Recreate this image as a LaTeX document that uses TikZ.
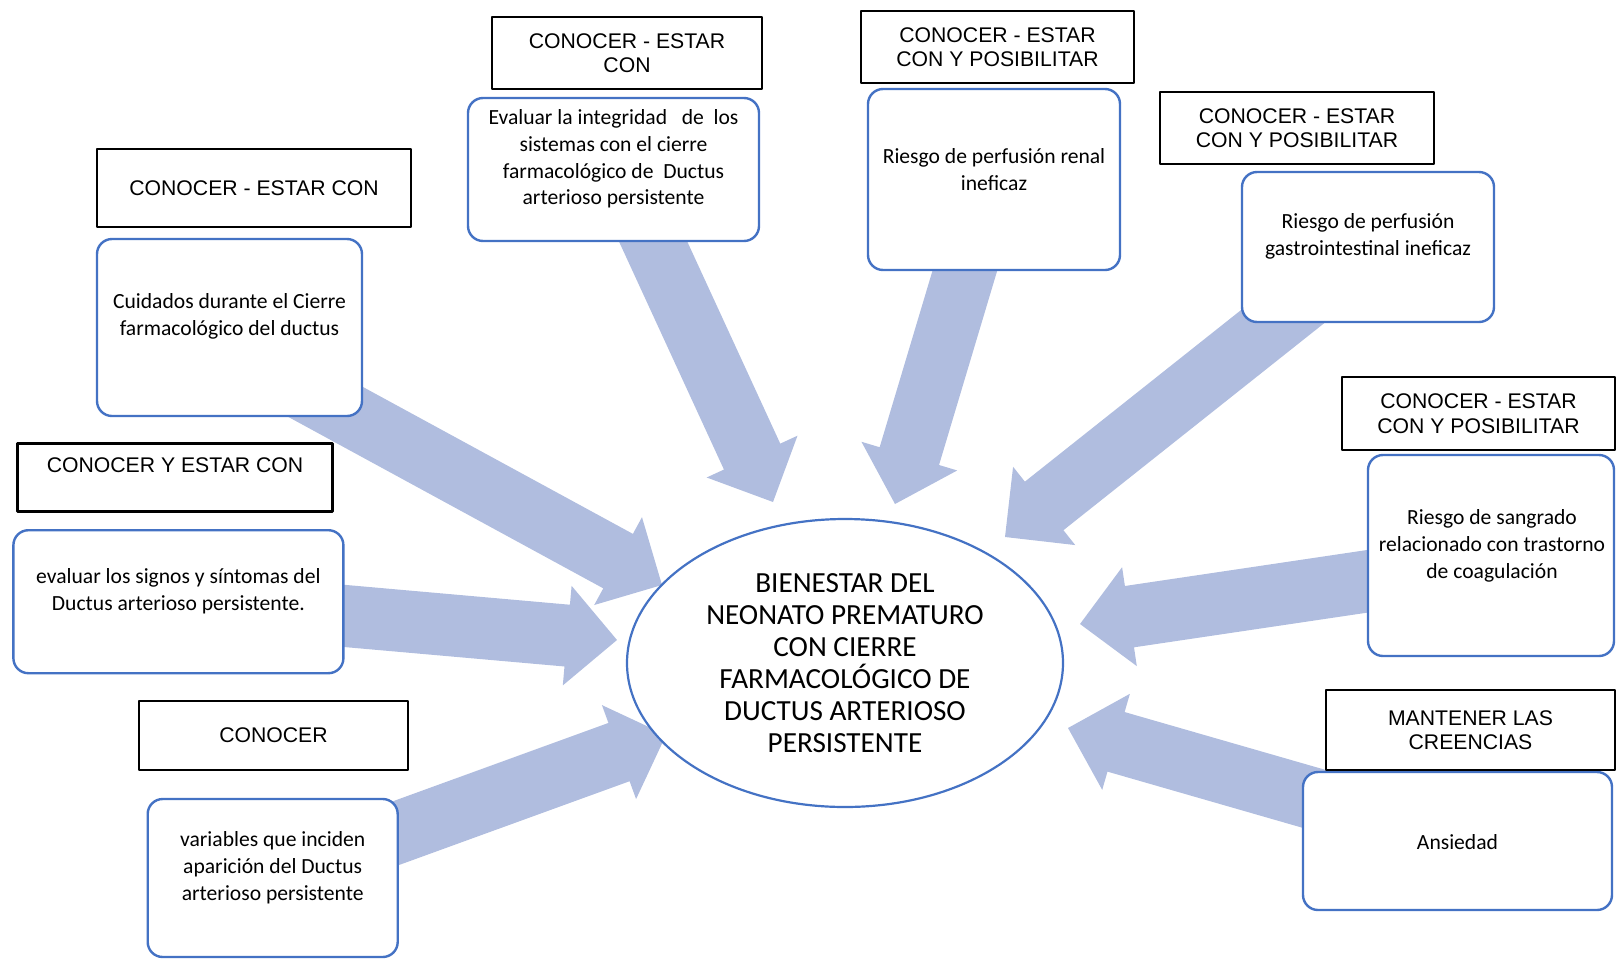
\documentclass[tikz,border=0pt]{standalone}
\usepackage{fontspec}
\setmainfont{Carlito}
\newfontfamily\arialfont{Liberation Sans}
\usetikzlibrary{calc,shapes.geometric,backgrounds}

\definecolor{boxblue}{RGB}{68,114,196}
\definecolor{arrowfill}{RGB}{176,189,223}

% block arrow from #1 to tip #2
\newcommand{\bigarrow}[2]{%
  \coordinate (hb) at ($(#2)!25pt!(#1)$);
  \fill[arrowfill] ($(#1)!15.5pt!90:(#2)$) -- ($(hb)!15.5pt!90:(#2)$) -- ($(hb)!25pt!90:(#2)$) -- (#2)
    -- ($(hb)!25pt!-90:(#2)$) -- ($(hb)!15.5pt!-90:(#2)$) -- ($(#1)!15.5pt!-90:(#2)$) -- cycle;
}

\begin{document}
\begin{tikzpicture}[x=0.5pt,y=-0.5pt,line join=round,
  sz/.style 2 args={minimum width=#1*0.5pt,minimum height=#2*0.5pt},
  hdr/.style={draw=black,line width=1.1pt,fill=white,inner sep=0pt,align=center,
    font=\arialfont\fontsize{10.6}{12.2}\selectfont},
  card/.style={draw=boxblue,line width=1.2pt,fill=white,rounded corners=7.5pt,inner sep=0pt},
  txt/.style={align=center,inner sep=0pt,font=\fontsize{10.8}{13.4}\selectfont}]
\useasboundingbox (0,0) rectangle (1617,959);

% cards
\node[card,sz={265}{177}] (cuid) at (229.5,327.5) {};
\node[txt] (cuidT) at (229.5,316.5) {Cuidados durante el Cierre\\farmacológico del ductus};
\node[card,sz={291}{143}] (integ) at (613.5,169.5) {};
\node[txt] (integT) at (613.5,159) {Evaluar la integridad~~ de~ los\\sistemas con el cierre\\farmacológico de~ Ductus\\arterioso persistente};
\node[card,sz={252}{181}] (renal) at (994,179.5) {};
\node[txt] (renalT) at (994,169.5) {Riesgo de perfusión renal\\ineficaz};
\node[card,sz={252}{150}] (gastro) at (1368,247) {};
\node[txt] (gastroT) at (1368,236.5) {Riesgo de perfusión\\gastrointestinal ineficaz};
\node[card,sz={246}{201}] (sangr) at (1491,555.5) {};
\node[txt] (sangrT) at (1492,546) {Riesgo de sangrado\\relacionado con trastorno\\de coagulación};
\node[card,sz={309}{138}] (ansied) at (1457.5,841) {};
\node[txt] (ansiedT) at (1457.5,842) {Ansiedad};
\node[card,sz={330}{143}] (signos) at (178.4,601.7) {};
\node[txt] (signosT) at (178.4,591.5) {evaluar los signos y síntomas del\\Ductus arterioso persistente.};
\node[card,sz={250}{158}] (variab) at (272.7,878) {};
\node[txt] (variabT) at (272.7,867.5) {variables que inciden\\aparición del Ductus\\arterioso persistente};

% headers
\node[hdr,sz={314}{78}] (hCuid) at (254,188) {CONOCER - ESTAR CON};
\node[hdr,sz={270}{72}] (hInteg) at (627,53) {CONOCER - ESTAR\\CON};
\node[hdr,sz={273}{72}] (hRenal) at (997.5,47) {CONOCER - ESTAR\\CON Y POSIBILITAR};
\node[hdr,sz={274}{72}] (hGastro) at (1297,128) {CONOCER - ESTAR\\CON Y POSIBILITAR};
\node[hdr,sz={273}{73}] (hSangr) at (1478.5,413.5) {CONOCER - ESTAR\\CON Y POSIBILITAR};
\node[hdr,sz={289}{80}] (hAnsied) at (1470.5,730) {MANTENER LAS\\CREENCIAS};
\node[hdr,sz={315}{68}] (hSignos) at (175,477.5) {CONOCER Y ESTAR CON\\\mbox{}};
\node[hdr,sz={269}{69}] (hVariab) at (273.5,735.5) {CONOCER};

% centre
\node[ellipse,draw=boxblue,line width=1.1pt,fill=white,inner sep=0pt,sz={436}{288},
  align=center,font=\fontsize{14.6}{16}\selectfont] (goal) at (845,663)
  {BIENESTAR DEL\\NEONATO PREMATURO\\CON CIERRE\\FARMACOLÓGICO DE\\DUCTUS ARTERIOSO\\PERSISTENTE};

\coordinate (tail1) at (300,388);  \coordinate (tip1) at (662,585);
\coordinate (tail2) at (300,612);  \coordinate (tip2) at (617,640);
\coordinate (tail3) at (300,868);  \coordinate (tip3) at (666,735);
\coordinate (tail4) at (634,200);  \coordinate (tip4) at (773,502);
\coordinate (tail5) at (992,180);  \coordinate (tip5) at (895,504);
\coordinate (tail6) at (1330,279); \coordinate (tip6) at (1005,537);
\coordinate (tail7) at (1450,569); \coordinate (tip7) at (1080,624);
\coordinate (tail8) at (1450,838); \coordinate (tip8) at (1068,728);

\begin{scope}[on background layer]
\foreach \n in {1,...,8} {
  \bigarrow{tail\n}{tip\n}
}
\end{scope}
\end{tikzpicture}
\end{document}
